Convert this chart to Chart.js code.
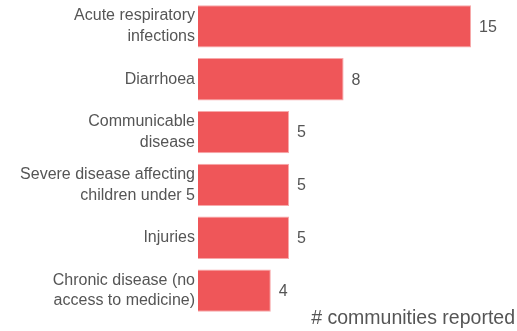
<!DOCTYPE html>
<html>
<head>
<meta charset="utf-8">
<script src="https://cdn.jsdelivr.net/npm/chart.js@4"></script>
<style>
  html, body { margin: 0; padding: 0; background: #fff; }
  #wrap { width: 517px; height: 331px; }
</style>
</head>
<body>
<div id="wrap"><canvas id="myChart"></canvas></div>
<script>
const categories = [
  ['Acute respiratory', 'infections'],
  'Diarrhoea',
  ['Communicable', 'disease'],
  ['Severe disease affecting', 'children under 5'],
  'Injuries',
  ['Chronic disease (no', 'access to medicine)']
];
const communities = [15, 8, 5, 5, 5, 4];
const axisTitle = '# communities reported';

const textColor = '#555555';
const fontFamily = '"Liberation Sans", Arial, sans-serif';

// value labels next to bars + axis title bottom right
const labelPlugin = {
  id: 'labels',
  afterDatasetsDraw(chart) {
    const c = chart.ctx;
    const meta = chart.getDatasetMeta(0);
    c.save();
    c.fillStyle = textColor;
    c.font = '16px ' + fontFamily;
    c.textAlign = 'left';
    c.textBaseline = 'middle';
    meta.data.forEach((bar, i) => {
      c.fillText(communities[i], bar.x + 8, bar.y + 1);
    });
    c.font = '19.5px ' + fontFamily;
    c.textAlign = 'right';
    c.textBaseline = 'alphabetic';
    c.fillText(axisTitle, chart.width - 2, chart.height - 7);
    c.restore();
  }
};

new Chart(document.getElementById('myChart'), {
  type: 'bar',
  data: {
    labels: categories,
    datasets: [{
      data: communities,
      backgroundColor: '#EF5659',
      borderColor: '#F7A9AA',
      borderWidth: 1,
      categoryPercentage: 0.8,
      barPercentage: 1
    }]
  },
  options: {
    indexAxis: 'y',
    responsive: true,
    maintainAspectRatio: false,
    animation: false,
    layout: { padding: { top: 0, right: 46, bottom: 14, left: 0 } },
    scales: {
      x: {
        display: false,
        min: 0,
        max: 15
      },
      y: {
        grid: { display: false, drawTicks: false },
        border: { display: false },
        ticks: {
          color: textColor,
          font: { family: fontFamily, size: 16, lineHeight: 1.3 },
          padding: 3
        },
        afterFit(scale) {
          scale.width = 198;
          scale.paddingTop = 0;
          scale.paddingBottom = 0;
        }
      }
    },
    plugins: {
      legend: { display: false },
      tooltip: { enabled: false }
    }
  },
  plugins: [labelPlugin]
});
</script>
</body>
</html>
